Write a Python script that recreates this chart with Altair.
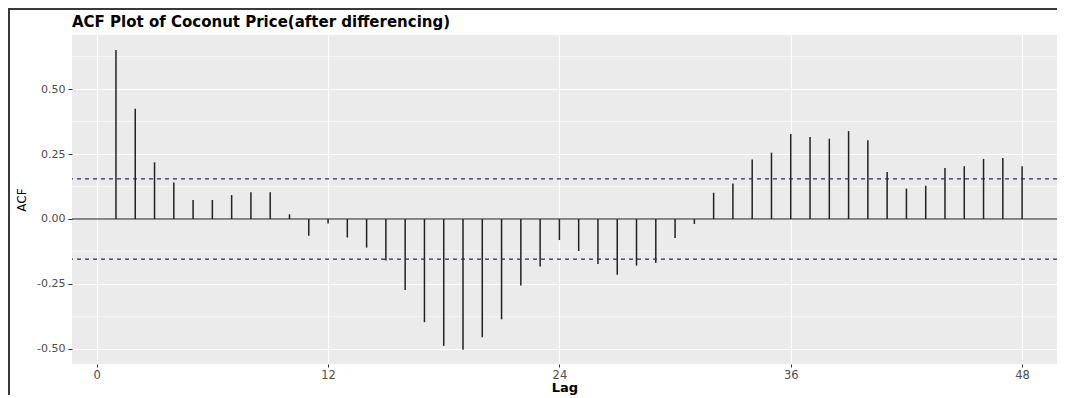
import altair as alt
import pandas as pd

# ---- data ----
lags = list(range(1, 49))
acf_values = [
    0.650, 0.424, 0.218, 0.140, 0.073, 0.073, 0.092, 0.103, 0.103, 0.018,
    -0.064, -0.017, -0.071, -0.110, -0.160, -0.273, -0.397, -0.488, -0.503, -0.455,
    -0.386, -0.256, -0.183, -0.081, -0.123, -0.173, -0.214, -0.179, -0.169, -0.073,
    -0.019, 0.101, 0.137, 0.229, 0.255, 0.327, 0.315, 0.309, 0.338, 0.303,
    0.181, 0.117, 0.128, 0.196, 0.203, 0.231, 0.235, 0.203,
]
ci_bounds = [0.154, -0.154]
zero_line = [0.0]
minor_breaks = [-0.375, -0.125, 0.125, 0.375, 0.625]
x_ticks = [0, 12, 24, 36, 48]
y_ticks = [-0.5, -0.25, 0.0, 0.25, 0.5]
title_text = "ACF Plot of Coconut Price(after differencing)"

df = pd.DataFrame({"Lag": lags, "ACF": acf_values})
ci_df = pd.DataFrame({"ACF": ci_bounds})
zero_df = pd.DataFrame({"ACF": zero_line})
minor_df = pd.DataFrame({"ACF": minor_breaks})
one_df = pd.DataFrame({"a": [0]})

FONT = "DejaVu Sans"

x_scale = alt.Scale(domain=[-1.281, 49.81], nice=False, zero=False)
y_scale = alt.Scale(domain=[-0.5577, 0.7077], nice=False, zero=False)

x_axis = alt.Axis(
    values=x_ticks, format="d", title="Lag",
    grid=True, gridColor="white", gridWidth=1.1,
    domain=False, tickSize=3, tickColor="#333333", tickWidth=1,
    labelPadding=2, labelColor="#4d4d4d", labelFontSize=11.5, labelFont=FONT,
    titleFont=FONT, titleFontSize=13, titleFontWeight="bold", titleColor="black",
    titlePadding=1,
)
y_axis = alt.Axis(
    values=y_ticks, title="ACF",
    labelExpr="datum.value < 0 ? '-' + format(-datum.value, '.2f') : format(datum.value, '.2f')",
    grid=True, gridColor="white", gridWidth=1.1,
    domain=False, tickSize=4, tickColor="#333333", tickWidth=1,
    labelPadding=3, labelColor="#4d4d4d", labelFontSize=11, labelFont=FONT,
    titleFont=FONT, titleFontSize=12, titleFontWeight="normal", titleColor="black",
    titlePadding=8,
)

Y = alt.Y("ACF:Q", scale=y_scale, axis=y_axis)

minor = alt.Chart(minor_df).mark_rule(color="white", strokeWidth=0.55).encode(y=Y)

zero = alt.Chart(zero_df).mark_rule(color="#1a1a1a", strokeWidth=1.1).encode(y=Y)

bars = alt.Chart(df).mark_rule(color="#222222", strokeWidth=1.5).encode(
    x=alt.X("Lag:Q", scale=x_scale, axis=x_axis),
    y=Y,
    y2=alt.datum(0),
)

ci = alt.Chart(ci_df).mark_rule(color="#2a2a66", strokeWidth=1.2, strokeDash=[4, 4]).encode(y=Y)

title_mark = alt.Chart(one_df).mark_text(
    text=title_text, align="left", baseline="alphabetic", font=FONT,
    fontSize=15, fontWeight="bold", color="black",
).encode(x=alt.value(0), y=alt.value(-8))

frame_top = alt.Chart(one_df).mark_rule(color="#3a3a3a", strokeWidth=2).encode(
    x=alt.value(-64), x2=alt.value(985), y=alt.value(-26)
)
frame_left = alt.Chart(one_df).mark_rule(color="#3a3a3a", strokeWidth=2).encode(
    x=alt.value(-63), y=alt.value(-27), y2=alt.value(360)
)

chart = (
    alt.layer(minor, zero, bars, ci, title_mark, frame_top, frame_left)
    .properties(
        width=985,
        height=329,
        padding={"left": 64, "top": 27, "right": 0, "bottom": 34},
        autosize=alt.AutoSizeParams(type="none"),
        background="white",
    )
    .configure_view(fill="#EBEBEB", stroke=None)
)

chart.save("out.html", embed_options={"renderer": "svg", "actions": False})
